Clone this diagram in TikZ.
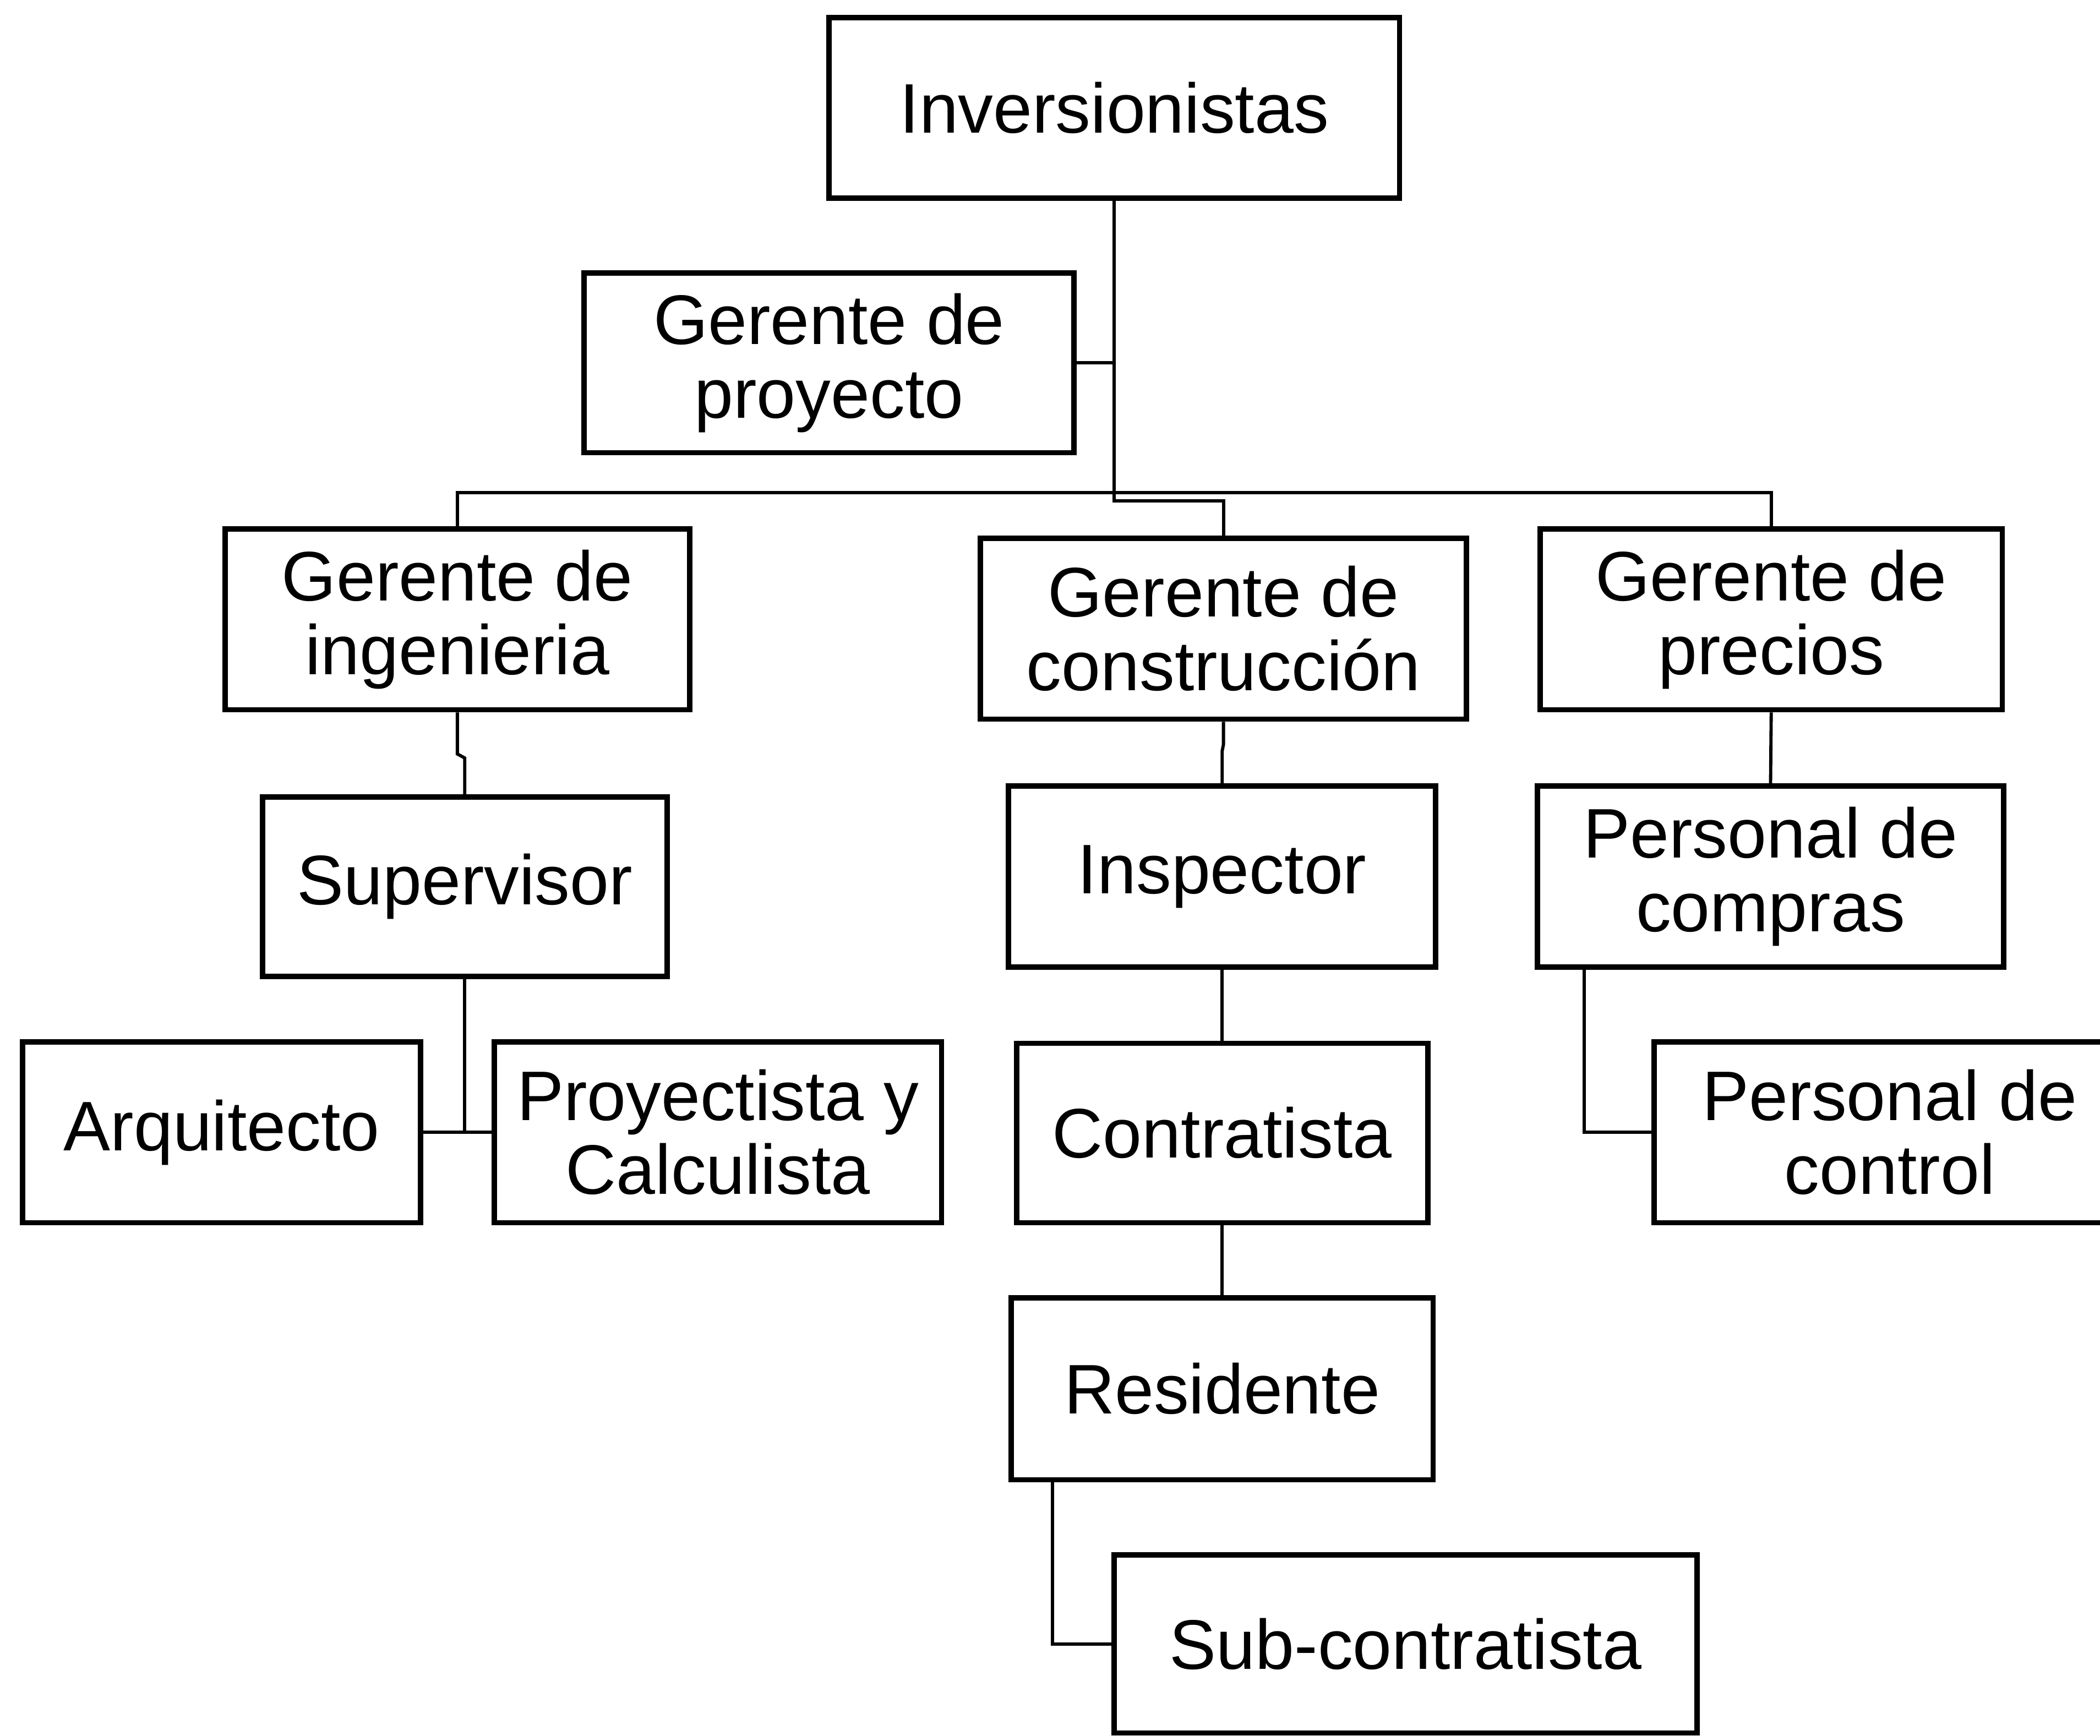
\documentclass[tikz,border=0pt]{standalone}
\usepackage{fontspec}
\setmainfont{Liberation Sans}
\begin{document}
\begin{tikzpicture}[x=0.5pt,y=-0.5pt,
  box/.style={draw=black, line width=2pt, rectangle, inner sep=0pt, align=center,
    font=\fontsize{26.2}{27.5}\selectfont},
  conn/.style={draw=black, line width=1.2pt, line join=miter}]
\useasboundingbox (0,0) rectangle (1568,1296);
\clip (0,0) rectangle (1568,1296);
\fill[white] (0,0) rectangle (1568,1296);
% nodes
\node[box, minimum width=213pt, minimum height=67.5pt] (inv) at (832,80.5) {Inversionistas};
\node[box, minimum width=183pt, minimum height=67pt] (gp) at (619,271) {Gerente de\\proyecto};
\node[box, minimum width=173.5pt, minimum height=67.5pt] (gi) at (341.5,462.5) {Gerente de\\ingenieria};
\node[box, minimum width=181.5pt, minimum height=67.5pt] (gc) at (913.5,469.5) {Gerente de\\construcción};
\node[box, minimum width=172.5pt, minimum height=67.5pt] (gpr) at (1322.5,462.5) {Gerente de\\precios};
\node[box, minimum width=151pt, minimum height=67pt] (sup) at (347,662) {Supervisor};
\node[box, minimum width=159.5pt, minimum height=67.5pt] (insp) at (912.5,654.5) {Inspector};
\node[box, minimum width=174pt, minimum height=67.5pt] (pc) at (1322,654.5) {Personal de\\compras};
\node[box, minimum width=148.5pt, minimum height=67.5pt] (arq) at (165.5,845.5) {Arquitecto};
\node[box, minimum width=167pt, minimum height=67.5pt] (proy) at (536,845.5) {Proyectista y\\Calculista};
\node[box, minimum width=153.5pt, minimum height=67pt] (con) at (912.5,846) {Contratista};
\node[box, minimum width=176pt, minimum height=67.5pt] (pctl) at (1411,845.5) {Personal de\\control};
\node[box, minimum width=157.5pt, minimum height=68pt] (res) at (912.5,1037) {Residente};
\node[box, minimum width=217.5pt, minimum height=66.5pt] (sub) at (1049.5,1227.5) {Sub-contratista};
% connectors
\coordinate (bar) at (832,368);
\coordinate (jog) at (832,374);
\draw[conn] (inv.south) -- (jog) -| (gc.north);
\draw[conn] (gp.east) -- (gp.east -| inv.south);
\draw[conn] (gi.north) -- (gi.north |- bar) -- (gpr.north |- bar) -- (gpr.north);
\draw[conn] (gi.south) -- (341.5,563) -- (347,566) -- (sup.north);
\draw[conn] (gc.south) -- (913.5,556) -- (912.5,561) -- (insp.north);
\draw[conn] (gpr.south) -- (pc.north);
\draw[conn] (insp.south) -- (con.north);
\draw[conn] (con.south) -- (res.north);
\draw[conn] (sup.south) -- (sup.south |- arq.east);
\draw[conn] (arq.east) -- (proy.west);
\draw[conn] (res.south west) ++(33,0) |- (sub.west);
\draw[conn] (pc.south west) ++(37,0) |- (pctl.west);
\end{tikzpicture}
\end{document}
